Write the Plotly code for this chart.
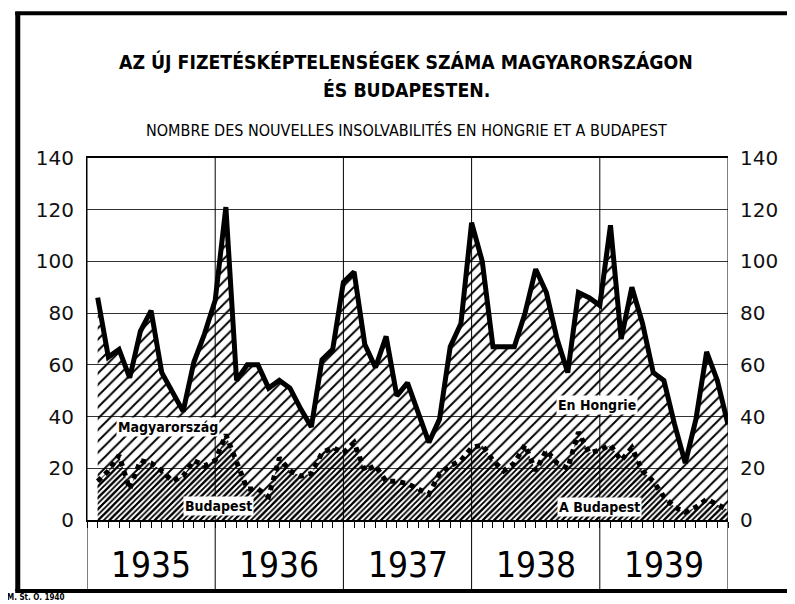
import plotly.graph_objects as go

# ---- data (monthly, Jan 1935 - Dec 1939) ----
months = list(range(1, 61))
years = ["1935", "1936", "1937", "1938", "1939"]
magyarorszag = [
    86, 63, 66, 55, 73, 81, 57, 49, 42, 61, 72, 85,
    121, 54, 60, 60, 51, 54, 51, 43, 36, 62, 66, 92,
    96, 68, 59, 71, 48, 53, 42, 30, 39, 67, 76, 115,
    100, 67, 67, 67, 80, 97, 88, 70, 57, 88, 86, 83,
    114, 70, 90, 76, 57, 54, 37, 22, 39, 65, 54, 37,
]
budapest = [
    15, 19, 25, 12, 23, 22, 19, 15, 17, 23, 21, 23,
    33, 22, 12, 12, 9, 24, 19, 17, 18, 26, 28, 26,
    30, 19, 21, 15, 15, 14, 12, 10, 18, 21, 23, 28,
    29, 23, 19, 22, 29, 19, 27, 22, 20, 34, 26, 27,
    29, 23, 28, 19, 15, 9, 5, 3, 5, 8, 6, 4,
]
y_ticks = [0, 20, 40, 60, 80, 100, 120, 140]
title_hu_1 = "AZ ÚJ FIZETÉSKÉPTELENSÉGEK SZÁMA MAGYARORSZÁGON"
title_hu_2 = "ÉS BUDAPESTEN."
title_fr = "NOMBRE DES NOUVELLES INSOLVABILITÉS EN HONGRIE ET A BUDAPEST"

COND = "Noto Sans Condensed, Liberation Sans Narrow, DejaVu Sans Condensed, sans-serif"
XCOND = "Noto Sans ExtraCondensed, Noto Sans Condensed, Liberation Sans Narrow, DejaVu Sans Condensed, sans-serif"
ROUND = "DejaVu Sans, Verdana, sans-serif"

fig = go.Figure()

fig.add_trace(go.Scatter(
    x=months, y=magyarorszag, mode="lines",
    line=dict(color="black", width=5),
    fill="tozeroy", fillcolor="rgba(255,255,255,0)",
    fillpattern=dict(shape="/", size=8, solidity=0.24, fgcolor="black",
                     bgcolor="rgba(255,255,255,0)", fillmode="replace"),
    hoverinfo="skip", showlegend=False,
))
fig.add_trace(go.Scatter(
    x=months, y=budapest, mode="lines",
    line=dict(color="black", width=5, dash="dot"),
    fill="tozeroy", fillcolor="rgba(255,255,255,0)",
    fillpattern=dict(shape="/", size=4, solidity=0.45, fgcolor="black",
                     bgcolor="rgba(255,255,255,0)", fillmode="replace"),
    hoverinfo="skip", showlegend=False,
))
# invisible trace to carry the right-hand axis
fig.add_trace(go.Scatter(x=[months[0]], y=[0], yaxis="y2", mode="markers",
                         marker=dict(opacity=0), hoverinfo="skip", showlegend=False))

shapes = []
# year dividers extending below the plot
for k in range(0, 61, 12):
    shapes.append(dict(type="line", xref="x", yref="paper", x0=k, x1=k,
                       y0=-0.193, y1=1, line=dict(color="black", width=1)))
# outer frame (left, top, bottom)
shapes.append(dict(type="line", xref="paper", yref="paper", x0=-0.108, x1=-0.108,
                   y0=-0.196, y1=1.403, line=dict(color="black", width=5)))
shapes.append(dict(type="line", xref="paper", yref="paper", x0=-0.112, x1=1.11,
                   y0=1.40, y1=1.40, line=dict(color="black", width=4)))
shapes.append(dict(type="line", xref="paper", yref="paper", x0=-0.112, x1=1.11,
                   y0=-0.196, y1=-0.196, line=dict(color="black", width=4)))

annotations = [
    dict(text="<b>" + title_hu_1 + "</b>", x=0.498, y=1.265, xref="paper", yref="paper",
         yanchor="middle", showarrow=False, font=dict(family=COND, size=19.3, color="black")),
    dict(text="<b>" + title_hu_2 + "</b>", x=0.498, y=1.186, xref="paper", yref="paper",
         yanchor="middle", showarrow=False, font=dict(family=COND, size=19.3, color="black")),
    dict(text=title_fr, x=0.498, y=1.077, xref="paper", yref="paper",
         yanchor="middle", showarrow=False, font=dict(family=COND, size=16, color="black")),
    dict(text="<b>Magyarország</b>", x=7.6, y=36, xref="x", yref="y", showarrow=False,
         bgcolor="white", borderpad=1, font=dict(family=COND, size=14, color="black")),
    dict(text="<b>Budapest</b>", x=12.3, y=5.5, xref="x", yref="y", showarrow=False,
         bgcolor="white", borderpad=1, font=dict(family=COND, size=14, color="black")),
    dict(text="<b>En Hongrie</b>", x=47.7, y=44.5, xref="x", yref="y", showarrow=False,
         bgcolor="white", borderpad=1, font=dict(family=COND, size=14, color="black")),
    dict(text="<b>A Budapest</b>", x=48.0, y=5.0, xref="x", yref="y", showarrow=False,
         bgcolor="white", borderpad=1, font=dict(family=COND, size=14, color="black")),
    dict(text="<b>M. St. Ö. 1940</b>", x=-0.128, y=-0.214, xref="paper", yref="paper",
         xanchor="left", yanchor="middle", showarrow=False,
         font=dict(family=COND, size=8, color="black")),
]
for j, yr in enumerate(years):
    annotations.append(dict(text=yr, x=6 + 12 * j, y=-0.124, xref="x", yref="paper",
                            yanchor="middle", showarrow=False,
                            font=dict(family=XCOND, size=35, color="black")))

# the page has an 8px body margin, so the figure is 8px smaller and shifted
fig.update_layout(
    width=787, height=596,
    margin=dict(l=79, r=67, t=150, b=84),
    paper_bgcolor="white", plot_bgcolor="white",
    xaxis=dict(range=[0, 60], tickvals=list(range(0, 61)), ticks="outside", ticklen=6,
               tickcolor="black", tickwidth=1, showticklabels=False, showgrid=False,
               zeroline=False, showline=True, linecolor="black", linewidth=2, mirror=True),
    yaxis=dict(range=[0, 140], tickvals=y_ticks, showgrid=True, gridcolor="#333",
               gridwidth=1, zeroline=False, showline=True, linecolor="black", linewidth=1,
               ticks="", ticklabelstandoff=8,
               tickfont=dict(family=ROUND, size=20, color="#111")),
    yaxis2=dict(range=[0, 140], tickvals=y_ticks, overlaying="y", side="right",
                showgrid=False, zeroline=False, showline=False, ticks="",
                ticklabelstandoff=11, tickfont=dict(family=ROUND, size=20, color="#111")),
    shapes=shapes, annotations=annotations,
)

fig.write_html("out.html")
